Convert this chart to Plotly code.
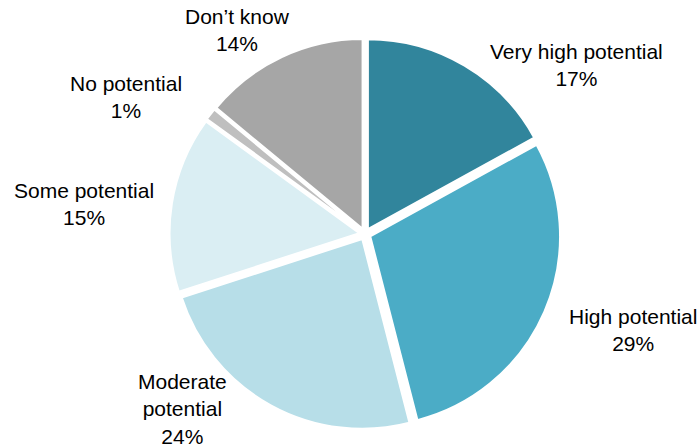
import plotly.graph_objects as go

# Data
categories = ["Very high potential", "High potential", "Moderate potential",
              "Some potential", "No potential", "Don\u2019t know"]
shares = [17, 29, 24, 15, 1, 14]
display_labels = ["Very high potential", "High potential", "Moderate<br>potential",
                  "Some potential", "No potential", "Don\u2019t know"]

# Styles
colors = ["#31859C", "#4BACC6", "#B7DEE8", "#DAEEF3", "#BFBFBF", "#A6A6A6"]
W, H = 700, 448
label_pos_px = [(576, 65), (633, 330), (182, 409), (84, 204), (126, 97), (237, 30)]

cx, cy, R = 365, 234, 195.5

fig = go.Figure(go.Pie(
    labels=categories,
    values=shares,
    sort=False,
    direction="clockwise",
    rotation=0,
    marker=dict(colors=colors, line=dict(color="white", width=2)),
    pull=[0.03] * len(shares),
    textinfo="none",
    hoverinfo="label+percent",
    showlegend=False,
    domain=dict(x=[(cx - R) / W, (cx + R) / W],
                y=[1 - (cy + R) / H, 1 - (cy - R) / H]),
))

total = sum(shares)
for lab, v, (px, py) in zip(display_labels, shares, label_pos_px):
    fig.add_annotation(
        x=px / W, y=1 - py / H, xref="paper", yref="paper",
        text=f"{lab}<br>{round(100 * v / total)}%",
        showarrow=False, xanchor="center", yanchor="middle",
        font=dict(family="Liberation Sans, Arial, sans-serif", size=21, color="#000000"),
        align="center",
    )

fig.update_layout(
    width=W, height=H,
    margin=dict(l=0, r=0, t=0, b=0),
    paper_bgcolor="white",
    plot_bgcolor="white",
)

fig.write_html("out.html", config={"displayModeBar": False},
               post_script="document.body.style.margin='0';document.body.style.overflow='hidden';")
